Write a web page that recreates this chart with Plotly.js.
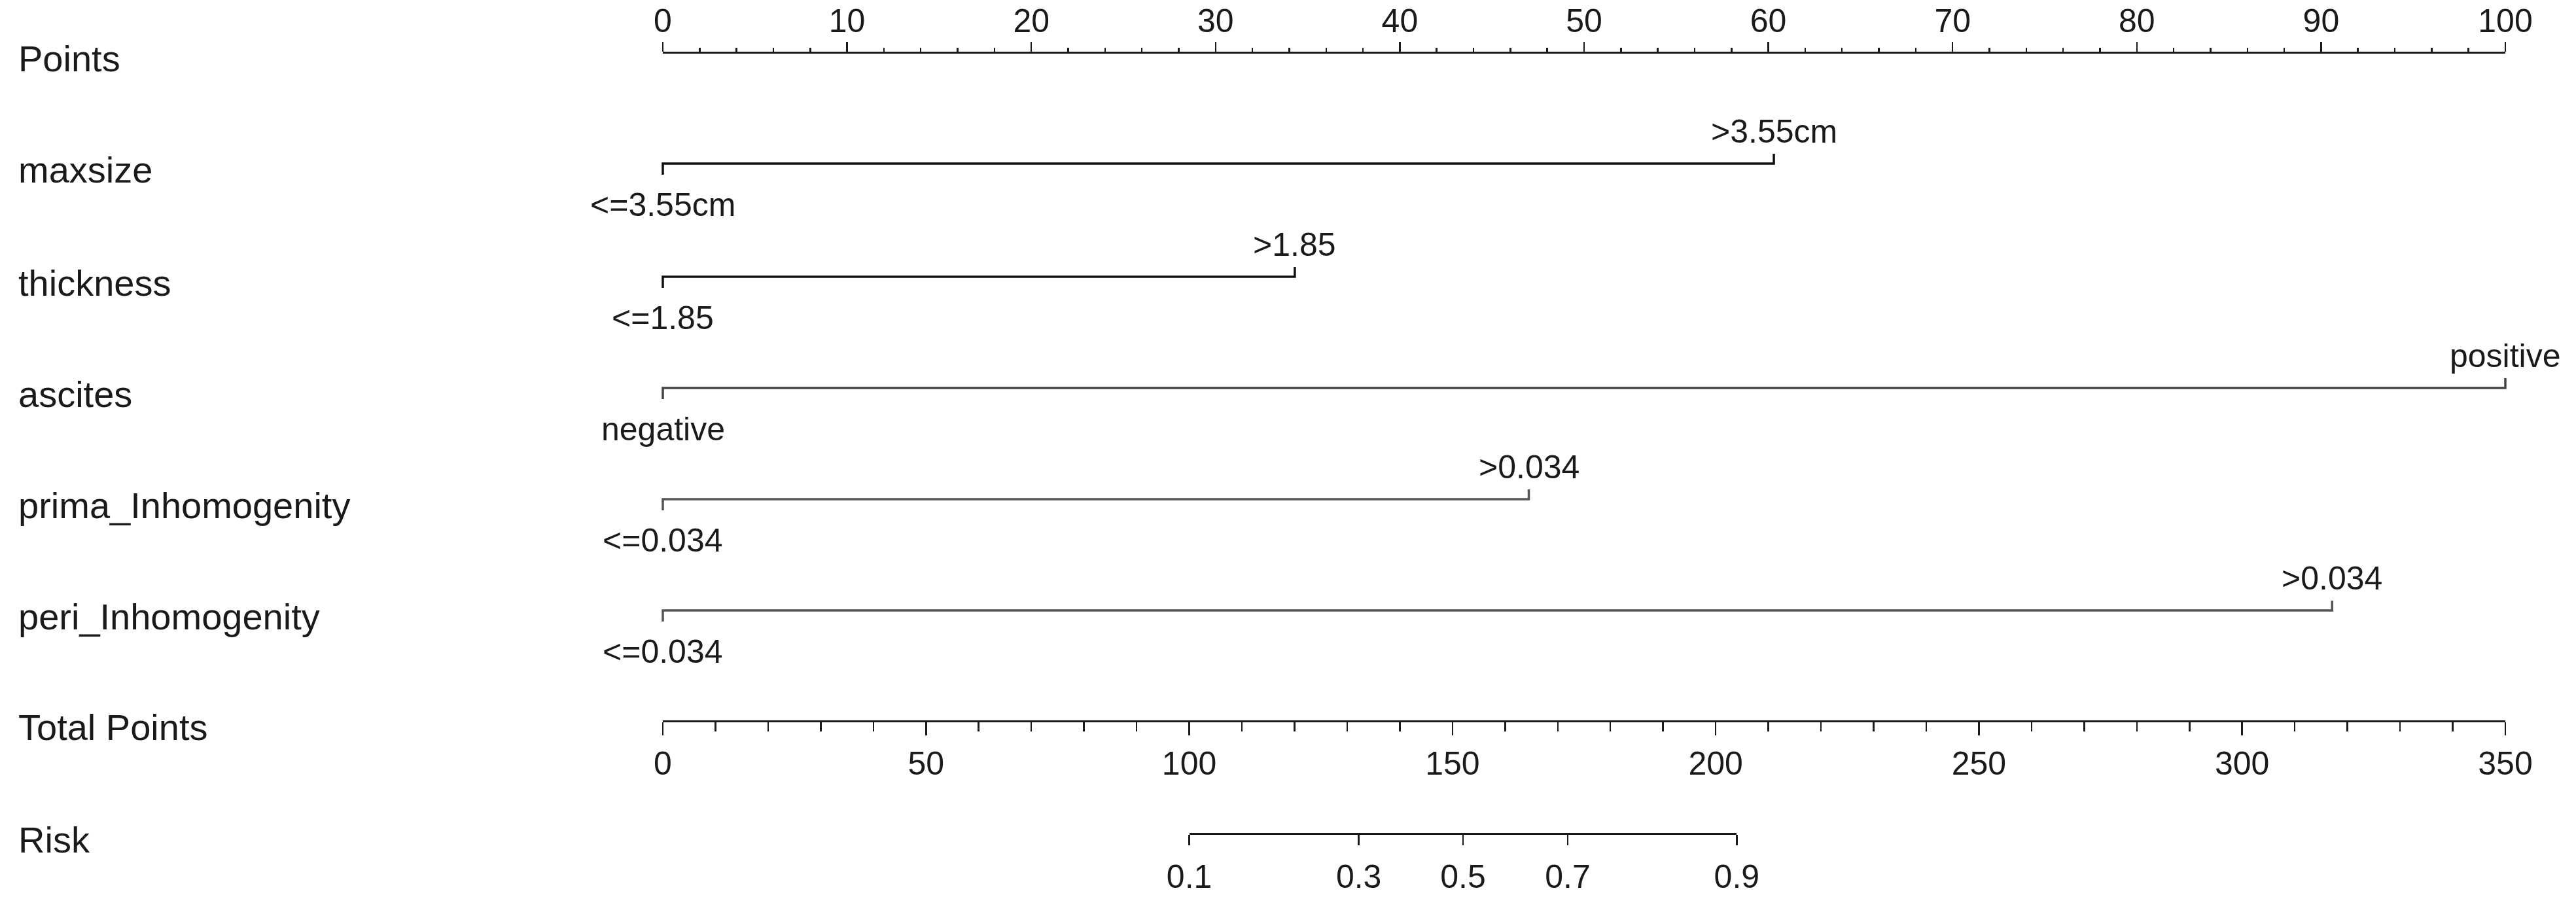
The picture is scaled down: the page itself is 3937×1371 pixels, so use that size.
<!DOCTYPE html>
<html>
<head>
<meta charset="utf-8">
<script src="https://cdn.plot.ly/plotly-3.0.1.min.js"></script>
<style>html,body{margin:0;padding:0;background:#fff;}#chart{width:3937px;height:1371px;}</style>
</head>
<body>
<div id="chart"></div>
<script>
// ---------- data ----------
const variableNames = ['maxsize', 'thickness', 'ascites', 'prima_Inhomogenity', 'peri_Inhomogenity'];
const lowLevels = ['<=3.55cm', '<=1.85', 'negative', '<=0.034', '<=0.034'];
const highLevels = ['>3.55cm', '>1.85', 'positive', '>0.034', '>0.034'];
const lowPoints = [0, 0, 0, 0, 0];
const highPoints = [60.3, 34.3, 100, 47.0, 90.6];

const pointsTicks = [0, 10, 20, 30, 40, 50, 60, 70, 80, 90, 100];
const totalPointsTicks = [0, 50, 100, 150, 200, 250, 300, 350];
const riskTicks = ['0.1', '0.3', '0.5', '0.7', '0.9'];
const riskTotalPoints = [100, 132.2, 152, 171.9, 204];

// ---------- layout geometry (pixels) ----------
const W = 3937, H = 1371;
const axisLeftPx = 1013, axisRightPx = 3829;
const pointsAxisY = 80, totalAxisY = 1102, riskAxisY = 1274;
const rowY = [250, 423, 593, 763, 933];
const labelX = 26;
const FONT = 'Liberation Sans, Arial, Helvetica, sans-serif';
const INK = '#1a1a1a';
const lineColors = ['#111', '#111', '#444', '#555', '#555'];

const pointsMax = pointsTicks[pointsTicks.length - 1];
const totalMax = totalPointsTicks[totalPointsTicks.length - 1];
const pxPerPoint = (axisRightPx - axisLeftPx) / pointsMax;
const pxPerTotal = (axisRightPx - axisLeftPx) / totalMax;
const riskLeftPx = axisLeftPx + riskTotalPoints[0] * pxPerTotal;
const riskRightPx = axisLeftPx + riskTotalPoints[riskTotalPoints.length - 1] * pxPerTotal;

const traces = [];
const annotations = [];

// variable rows
variableNames.forEach((name, i) => {
  const y = rowY[i];
  const lo = lowPoints[i], hi = highPoints[i];
  traces.push({
    type: 'scatter', mode: 'lines', xaxis: 'x', yaxis: 'y',
    x: [lo, lo, hi, hi], y: [y + 17, y, y, y - 15],
    line: {color: lineColors[i], width: 3.5}, hoverinfo: 'skip', showlegend: false, cliponaxis: false
  });
  annotations.push({xref: 'x', yref: 'y', x: lo, y: y + 80 - 17, text: lowLevels[i],
    showarrow: false, xanchor: 'center', yanchor: 'middle', font: {size: 50, family: FONT, color: INK}});
  annotations.push({xref: 'x', yref: 'y', x: hi, y: y - 32 - 17, text: highLevels[i],
    showarrow: false, xanchor: 'center', yanchor: 'middle', font: {size: 50, family: FONT, color: INK}});
  annotations.push({xref: 'paper', yref: 'y', x: labelX / W, y: y + 9, text: name,
    showarrow: false, xanchor: 'left', yanchor: 'middle', font: {size: 56, family: FONT, color: INK}});
});

// row names for axis rows
[['Points', pointsAxisY], ['Total Points', totalAxisY], ['Risk', riskAxisY]].forEach(([t, y]) => {
  annotations.push({xref: 'paper', yref: 'y', x: labelX / W, y: y + 9, text: t,
    showarrow: false, xanchor: 'left', yanchor: 'middle', font: {size: 56, family: FONT, color: INK}});
});

// empty traces to attach the scale axes
['x2', 'x3', 'x4'].forEach(ax => traces.push({type: 'scatter', mode: 'markers', x: [], y: [], xaxis: ax, yaxis: 'y', showlegend: false, hoverinfo: 'skip'}));

const baseAxis = {
  anchor: 'free', showgrid: false, zeroline: false, showline: true,
  linecolor: INK, linewidth: 3, ticks: 'outside', tickcolor: INK, tickwidth: 2.5,
  tickfont: {size: 50, family: FONT, color: INK}, fixedrange: true
};

const layout = {
  width: W, height: H,
  margin: {l: 0, r: 0, t: 0, b: 0, pad: 0},
  paper_bgcolor: '#fff', plot_bgcolor: 'rgba(0,0,0,0)',
  showlegend: false,
  xaxis: {domain: [0, 1], range: [-axisLeftPx / pxPerPoint, (W - axisLeftPx) / pxPerPoint], visible: false, fixedrange: true},
  yaxis: {domain: [0, 1], range: [H, 0], visible: false, fixedrange: true},
  xaxis2: Object.assign({}, baseAxis, {
    domain: [axisLeftPx / W, axisRightPx / W], position: 1 - pointsAxisY / H, side: 'top',
    range: [0, pointsMax], tickmode: 'array', tickvals: pointsTicks, ticktext: pointsTicks.map(String),
    ticklen: 15, ticklabelstandoff: -5,
    minor: {ticks: 'outside', dtick: 2, tick0: 0, ticklen: 6, tickwidth: 2.5, tickcolor: INK, showgrid: false}
  }),
  xaxis3: Object.assign({}, baseAxis, {
    domain: [axisLeftPx / W, axisRightPx / W], position: 1 - totalAxisY / H, side: 'bottom',
    range: [0, totalMax], tickmode: 'array', tickvals: totalPointsTicks, ticktext: totalPointsTicks.map(String),
    ticklen: 20,
    minor: {ticks: 'outside', dtick: 10, tick0: 0, ticklen: 14, tickwidth: 2.5, tickcolor: INK, showgrid: false}
  }),
  xaxis4: Object.assign({}, baseAxis, {
    domain: [riskLeftPx / W, riskRightPx / W], position: 1 - riskAxisY / H, side: 'bottom',
    range: [riskTotalPoints[0], riskTotalPoints[riskTotalPoints.length - 1]],
    tickmode: 'array', tickvals: riskTotalPoints, ticktext: riskTicks, ticklen: 16, ticklabelstandoff: 5
  }),
  annotations: annotations
};

Plotly.newPlot('chart', traces, layout, {displayModeBar: false, staticPlot: true});
</script>
</body>
</html>
